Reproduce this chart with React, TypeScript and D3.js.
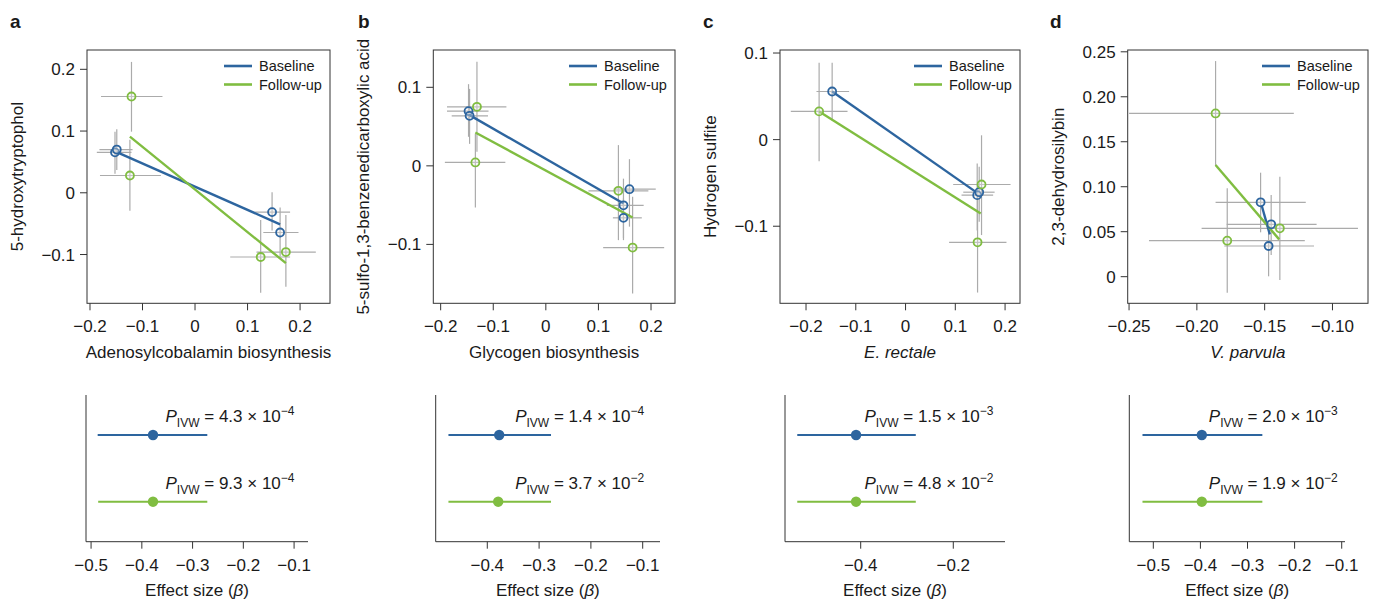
import * as d3 from "d3";
import React from "react";

const BLUE = "#2D659F";
const GREEN = "#80BD41";
const GREY = "#ABABAB";
const AXIS = "#333333";
const FONT = "'Liberation Sans', Arial, Helvetica, sans-serif";

// ---- data ----
const panelLetters = ["a", "b", "c", "d"];
const yTitles = ["5-hydroxytryptophol", "5-sulfo-1,3-benzenedicarboxylic acid", "Hydrogen sulfite", "2,3-dehydrosilybin"];
const xTitles = ["Adenosylcobalamin biosynthesis", "Glycogen biosynthesis", "E. rectale", "V. parvula"];
const xTitleItalic = [false, false, true, true];

const scatterXDomains = [[-0.2057, 0.257], [-0.214, 0.2456], [-0.2523, 0.23], [-0.251, -0.0738]];
const scatterYDomains = [[-0.179, 0.2313], [-0.175, 0.1475], [-0.189, 0.1035], [-0.0296, 0.252]];
const scatterXTicks = [[-0.2, -0.1, 0, 0.1, 0.2], [-0.2, -0.1, 0, 0.1, 0.2], [-0.2, -0.1, 0, 0.1, 0.2], [-0.25, -0.2, -0.15, -0.1]];
const scatterXTickLabels = [
  ["−0.2", "−0.1", "0", "0.1", "0.2"],
  ["−0.2", "−0.1", "0", "0.1", "0.2"],
  ["−0.2", "−0.1", "0", "0.1", "0.2"],
  ["−0.25", "−0.20", "−0.15", "−0.10"],
];
const scatterYTicks = [[-0.1, 0, 0.1, 0.2], [-0.1, 0, 0.1], [-0.1, 0, 0.1], [0, 0.05, 0.1, 0.15, 0.2, 0.25]];
const scatterYTickLabels = [
  ["−0.1", "0", "0.1", "0.2"],
  ["−0.1", "0", "0.1"],
  ["−0.1", "0", "0.1"],
  ["0", "0.05", "0.10", "0.15", "0.20", "0.25"],
];

// [x, y, xLo, xHi, yLo, yHi]
const baselineA = [
  [-0.1524, 0.0655, -0.187, -0.121, 0.031, 0.099],
  [-0.149, 0.07, -0.182, -0.119, 0.037, 0.103],
  [0.1467, -0.0313, 0.114, 0.181, -0.061, 0.001],
  [0.162, -0.0643, 0.13, 0.197, -0.103, -0.024],
];
const followupA = [
  [-0.121, 0.156, -0.179, -0.062, 0.099, 0.212],
  [-0.124, 0.028, -0.181, -0.065, -0.029, 0.086],
  [0.125, -0.104, 0.067, 0.181, -0.162, -0.044],
  [0.173, -0.096, 0.117, 0.23, -0.152, -0.036],
];
const baselineB = [
  [-0.147, 0.0697, -0.188, -0.109, 0.037, 0.104],
  [-0.145, 0.0637, -0.179, -0.11, 0.028, 0.098],
  [0.159, -0.0297, 0.129, 0.209, -0.0774, 0.0085],
  [0.1476, -0.0502, 0.116, 0.186, -0.0946, -0.0163],
  [0.1476, -0.0662, 0.1275, 0.1825, -0.092, -0.0415],
];
const followupB = [
  [-0.131, 0.0752, -0.188, -0.075, 0.0178, 0.1325],
  [-0.134, 0.0043, -0.192, -0.077, -0.053, 0.041],
  [0.138, -0.0318, 0.081, 0.195, -0.0946, 0.0264],
  [0.165, -0.104, 0.109, 0.225, -0.1626, -0.0395],
];
const baselineC = [
  [-0.1475, 0.0556, -0.179, -0.1134, 0.0222, 0.0887],
  [0.144, -0.0641, 0.1125, 0.176, -0.105, -0.0276],
  [0.148, -0.0607, 0.116, 0.179, -0.0948, -0.0314],
];
const followupC = [
  [-0.1737, 0.0326, -0.2306, -0.1166, -0.025, 0.0887],
  [0.1527, -0.0518, 0.0957, 0.211, -0.1102, 0.005],
  [0.1447, -0.1186, 0.0875, 0.2028, -0.1766, -0.062],
];
const baselineD = [
  [-0.153, 0.0827, -0.1862, -0.1197, 0.0493, 0.1156],
  [-0.1452, 0.0582, -0.178, -0.1117, 0.0241, 0.0908],
  [-0.1471, 0.0341, -0.1798, -0.1136, 0.0004, 0.0597],
];
const followupD = [
  [-0.1862, 0.1815, -0.25, -0.1285, 0.123, 0.2397],
  [-0.1776, 0.04, -0.2353, -0.1204, -0.0178, 0.0982],
  [-0.1388, 0.0538, -0.1965, -0.0812, -0.0037, 0.111],
];
const baselinePoints = [baselineA, baselineB, baselineC, baselineD];
const followupPoints = [followupA, followupB, followupC, followupD];

// fitted lines [x1, y1, x2, y2]
const fitBaseline = [
  [-0.149, 0.066, 0.162, -0.051],
  [-0.145, 0.0646, 0.1478, -0.048],
  [-0.1475, 0.0556, 0.144, -0.0615],
  [-0.1523, 0.0797, -0.1462, 0.047],
];
const fitFollowup = [
  [-0.124, 0.091, 0.173, -0.114],
  [-0.134, 0.0425, 0.165, -0.0657],
  [-0.1737, 0.0326, 0.151, -0.0852],
  [-0.1862, 0.1241, -0.1393, 0.0415],
];

// forest plots
const betaBaseline = [-0.378, -0.377, -0.41, -0.397];
const ciBaseline = [[-0.487, -0.271], [-0.475, -0.277], [-0.537, -0.281], [-0.523, -0.2685]];
const betaFollowup = [-0.378, -0.379, -0.41, -0.397];
const ciFollowup = [[-0.486, -0.271], [-0.475, -0.277], [-0.537, -0.281], [-0.523, -0.2685]];
const pBaseline = [["4.3", "−4"], ["1.4", "−4"], ["1.5", "−3"], ["2.0", "−3"]];
const pFollowup = [["9.3", "−4"], ["3.7", "−2"], ["4.8", "−2"], ["1.9", "−2"]];
const forestDomains = [[-0.51, -0.0726], [-0.4996, -0.0666], [-0.5635, -0.0883], [-0.551, -0.093]];
const forestTicks = [[-0.5, -0.4, -0.3, -0.2, -0.1], [-0.4, -0.3, -0.2, -0.1], [-0.4, -0.2], [-0.5, -0.4, -0.3, -0.2, -0.1]];
const forestTickLabels = [
  ["−0.5", "−0.4", "−0.3", "−0.2", "−0.1"],
  ["−0.4", "−0.3", "−0.2", "−0.1"],
  ["−0.4", "−0.2"],
  ["−0.5", "−0.4", "−0.3", "−0.2", "−0.1"],
];

// ---- layout ----
const W = 1374;
const H = 602;
const boxLeft = [87, 433.3, 780, 1127.7];
const boxRight = [330, 675, 1020, 1368];
const boxTop = 50;
const boxBottom = 303.3;
const forestLeft = [86, 435.7, 785, 1129.3];
const forestRight = [308, 660, 1005, 1345];
const forestTop = 395;
const forestBottom = 541.7;
const letterX = [10, 358, 703, 1050];
const TICK = 17;
const TITLE = 17;
const LEGEND = 14.5;

const Scatter = ({ i }: { i: number }) => {
  const x = d3.scaleLinear().domain(scatterXDomains[i]).range([boxLeft[i], boxRight[i]]);
  const y = d3.scaleLinear().domain(scatterYDomains[i]).range([boxBottom, boxTop]);
  const groups = [
    { pts: baselinePoints[i], fit: fitBaseline[i], color: BLUE },
    { pts: followupPoints[i], fit: fitFollowup[i], color: GREEN },
  ];
  const line = d3.line<number[]>().x((d) => x(d[0])).y((d) => y(d[1]));
  const cx = (boxLeft[i] + boxRight[i]) / 2;
  const cy = (boxTop + boxBottom) / 2;
  const lx = boxRight[i] - 106;
  return (
    <g>
      <text x={letterX[i]} y={28} fontSize={19} fontWeight="bold">{panelLetters[i]}</text>
      {/* error bars */}
      {groups.map((g, gi) =>
        g.pts.map((p, k) => (
          <g key={`e${gi}${k}`} stroke={GREY} strokeWidth={1.2}>
            <line x1={x(p[2])} x2={x(p[3])} y1={y(p[1])} y2={y(p[1])} />
            <line x1={x(p[0])} x2={x(p[0])} y1={y(p[4])} y2={y(p[5])} />
          </g>
        ))
      )}
      {groups.map((g, gi) => (
        <path key={`f${gi}`} d={line([[g.fit[0], g.fit[1]], [g.fit[2], g.fit[3]]]) || ""} stroke={g.color} strokeWidth={2.4} fill="none" />
      ))}
      {groups.map((g, gi) =>
        g.pts.map((p, k) => (
          <circle key={`c${gi}${k}`} cx={x(p[0])} cy={y(p[1])} r={4} fill="rgba(235,235,235,0.35)" stroke={g.color} strokeWidth={1.8} />
        ))
      )}
      <rect x={boxLeft[i]} y={boxTop} width={boxRight[i] - boxLeft[i]} height={boxBottom - boxTop} fill="none" stroke={AXIS} strokeWidth={1} />
      {scatterXTicks[i].map((t, k) => (
        <g key={`xt${k}`}>
          <line x1={x(t)} x2={x(t)} y1={boxBottom} y2={boxBottom + 7} stroke={AXIS} />
          <text x={x(t)} y={boxBottom + 29} textAnchor="middle" fontSize={TICK}>{scatterXTickLabels[i][k]}</text>
        </g>
      ))}
      {scatterYTicks[i].map((t, k) => (
        <g key={`yt${k}`}>
          <line x1={boxLeft[i] - 7} x2={boxLeft[i]} y1={y(t)} y2={y(t)} stroke={AXIS} />
          <text x={boxLeft[i] - 12} y={y(t) + 6} textAnchor="end" fontSize={TICK}>{scatterYTickLabels[i][k]}</text>
        </g>
      ))}
      <text x={cx} y={358} textAnchor="middle" fontSize={TITLE} fontStyle={xTitleItalic[i] ? "italic" : "normal"}>{xTitles[i]}</text>
      <text transform={`translate(${boxLeft[i] - 64},${cy}) rotate(-90)`} textAnchor="middle" fontSize={TITLE}>{yTitles[i]}</text>
      {/* legend */}
      <line x1={lx} x2={lx + 28} y1={66} y2={66} stroke={BLUE} strokeWidth={2.6} />
      <text x={lx + 35} y={71} fontSize={LEGEND}>Baseline</text>
      <line x1={lx} x2={lx + 28} y1={84.5} y2={84.5} stroke={GREEN} strokeWidth={2.6} />
      <text x={lx + 35} y={89.5} fontSize={LEGEND}>Follow-up</text>
    </g>
  );
};

const PLabel = ({ x, y, p }: { x: number; y: number; p: string[] }) => (
  <text x={x} y={y} textAnchor="middle" fontSize={TICK}>
    <tspan fontStyle="italic">P</tspan>
    <tspan fontSize={12} dy={5}>IVW</tspan>
    <tspan dy={-5}>{` = ${p[0]} × 10`}</tspan>
    <tspan fontSize={12} dy={-7}>{p[1]}</tspan>
  </text>
);

const Forest = ({ i }: { i: number }) => {
  const x = d3.scaleLinear().domain(forestDomains[i]).range([forestLeft[i], forestRight[i]]);
  const y = d3.scaleLinear().domain([0.4, 2.6]).range([forestTop, forestBottom]);
  const rows = [
    { b: betaBaseline[i], ci: ciBaseline[i], p: pBaseline[i], color: BLUE, r: 1 },
    { b: betaFollowup[i], ci: ciFollowup[i], p: pFollowup[i], color: GREEN, r: 2 },
  ];
  const labelX = forestLeft[i] + 144;
  return (
    <g>
      <line x1={forestLeft[i]} x2={forestLeft[i]} y1={forestTop} y2={forestBottom} stroke={AXIS} />
      <line x1={forestLeft[i]} x2={forestRight[i]} y1={forestBottom} y2={forestBottom} stroke={AXIS} />
      {forestTicks[i].map((t, k) => (
        <g key={k}>
          <line x1={x(t)} x2={x(t)} y1={forestBottom} y2={forestBottom + 7} stroke={AXIS} />
          <text x={x(t)} y={forestBottom + 29} textAnchor="middle" fontSize={TICK}>{forestTickLabels[i][k]}</text>
        </g>
      ))}
      {rows.map((r, k) => (
        <g key={`r${k}`}>
          <line x1={x(r.ci[0])} x2={x(r.ci[1])} y1={y(r.r)} y2={y(r.r)} stroke={r.color} strokeWidth={2} />
          <circle cx={x(r.b)} cy={y(r.r)} r={5.2} fill={r.color} />
          <PLabel x={labelX} y={y(r.r) - 13} p={r.p} />
        </g>
      ))}
      <text x={(forestLeft[i] + forestRight[i]) / 2} y={596} textAnchor="middle" fontSize={TITLE}>
        Effect size (<tspan fontStyle="italic">β</tspan>)
      </text>
    </g>
  );
};

export default function App() {
  return (
    <div style={{ position: "absolute", left: 0, top: 0 }}>
      <svg width={W} height={H} fontFamily={FONT} fill="#1a1a1a" style={{ display: "block", background: "#fff" }}>
        {panelLetters.map((_, i) => (
          <g key={i}>
            <Scatter i={i} />
            <Forest i={i} />
          </g>
        ))}
      </svg>
    </div>
  );
}
